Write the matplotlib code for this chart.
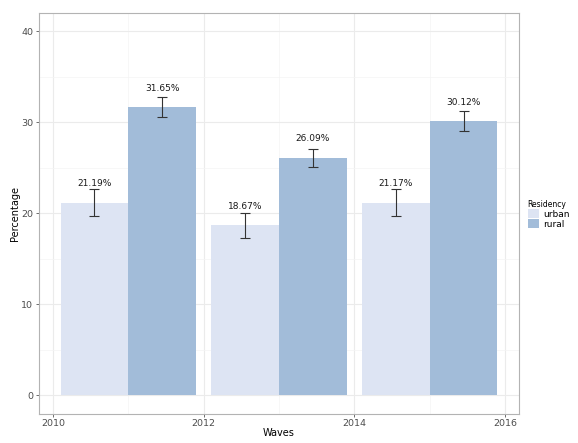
import numpy as np
import matplotlib
matplotlib.use('Agg')
import matplotlib.pyplot as plt
from matplotlib.patches import Patch

# data
waves = [2011, 2013, 2015]
urban = [21.19, 18.67, 21.17]
rural = [31.65, 26.09, 30.12]
urban_err = [1.48, 1.37, 1.48]
rural_err = [1.10, 1.04, 1.10]

urban_col = '#dde4f3'
rural_col = '#a2bcd9'

fig = plt.figure(figsize=(5.78, 4.43), dpi=100)
ax = fig.add_axes([38.7 / 578, 1 - 413.5 / 443, (519.3 - 38.7) / 578, (413.5 - 13.3) / 443])

w = 0.9
x = np.array(waves, dtype=float)
ax.bar(x - w / 2, urban, width=w, color=urban_col, zorder=2)
ax.bar(x + w / 2, rural, width=w, color=rural_col, zorder=2)
ax.errorbar(x - w / 2, urban, yerr=urban_err, fmt='none', ecolor='#333333',
            elinewidth=0.8, capsize=3.5, capthick=0.8, zorder=3)
ax.errorbar(x + w / 2, rural, yerr=rural_err, fmt='none', ecolor='#333333',
            elinewidth=0.8, capsize=3.5, capthick=0.8, zorder=3)

for xi, v in zip(x - w / 2, urban):
    ax.text(xi, v + 2.1, f'{v:.2f}%', ha='center', va='center', fontsize=6.5, color='#1a1a1a')
for xi, v in zip(x + w / 2, rural):
    ax.text(xi, v + 2.1, f'{v:.2f}%', ha='center', va='center', fontsize=6.5, color='#1a1a1a')

ax.set_xlim(2009.81, 2016.19)
ax.set_ylim(-2, 42)
ax.set_xticks([2010, 2012, 2014, 2016])
ax.set_yticks([0, 10, 20, 30, 40])
ax.set_xticks([2011, 2013, 2015], minor=True)
ax.set_yticks([5, 15, 25, 35], minor=True)
ax.grid(True, which='major', color='#ebebeb', linewidth=0.8, zorder=0)
ax.grid(True, which='minor', color='#f4f4f4', linewidth=0.5, zorder=0)
ax.set_axisbelow(True)
ax.tick_params(which='major', labelsize=6.8, labelcolor='#4d4d4d', color='#333333', length=2.5, width=0.5, pad=1.5)
ax.tick_params(which='minor', length=0)
for s in ax.spines.values():
    s.set_color('#b3b3b3')
    s.set_linewidth(0.8)

ax.set_xlabel('Waves', fontsize=7, labelpad=0)
ax.set_ylabel('Percentage', fontsize=7, labelpad=0.5)

handles = [Patch(facecolor=urban_col, label='urban'), Patch(facecolor=rural_col, label='rural')]
fig.legend(handles=handles, title='Residency', loc='upper left',
           bbox_to_anchor=(524 / 578, 1 - 196 / 443), frameon=False,
           fontsize=6.5, title_fontsize=5.5, handlelength=1.3, handleheight=1.3,
           handletextpad=0.4, labelspacing=0.0, borderaxespad=0, alignment='left')

plt.savefig('out.png', dpi=100)
